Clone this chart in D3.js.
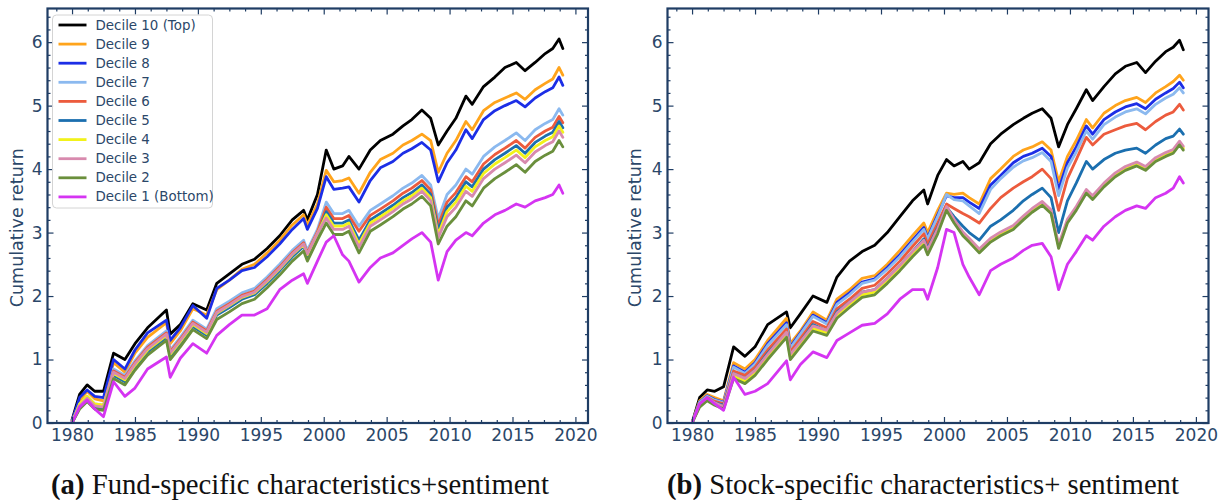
<!DOCTYPE html>
<html>
<head>
<meta charset="utf-8">
<script src="https://cdn.jsdelivr.net/npm/d3@7"></script>
<style>
  html, body { margin: 0; padding: 0; background: #ffffff; }
  svg { display: block; }
</style>
</head>
<body>
<svg id="chart" width="1225" height="500"></svg>
<script>
// ---------------- DATA ----------------
const years = [1980.0,1980.6,1981.2,1981.8,1982.5,1983.3,1984.2,1985.0,1986.0,1987.5,1987.8,1988.6,1989.6,1990.7,1991.5,1992.5,1993.5,1994.5,1995.5,1996.5,1997.5,1998.4,1998.7,1999.5,2000.2,2000.8,2001.5,2002.0,2002.8,2003.7,2004.5,2005.5,2006.3,2007.0,2007.8,2008.5,2009.1,2009.8,2010.5,2011.3,2011.8,2012.7,2013.6,2014.4,2015.3,2016.0,2016.8,2017.6,2018.2,2018.7,2019.0];

const decileNames = ["Decile 10 (Top)","Decile 9","Decile 8","Decile 7","Decile 6","Decile 5","Decile 4","Decile 3","Decile 2","Decile 1 (Bottom)"];

const xTicks = [1980,1985,1990,1995,2000,2005,2010,2015,2020];
const yTicks = [0,1,2,3,4,5,6];

const yLabel = "Cumulative return";
const captionTagA = "(a)";
const captionTextA = " Fund-specific characteristics+sentiment";
const captionTagB = "(b)";
const captionTextB = " Stock-specific characteristics+ sentiment";

// Panel (a): fund-specific characteristics + sentiment
const a10 = [0.05,0.45,0.6,0.5,0.5,1.1,1.0,1.25,1.5,1.78,1.4,1.55,1.88,1.78,2.2,2.35,2.5,2.58,2.75,2.95,3.2,3.35,3.2,3.6,4.3,4.0,4.05,4.2,4.0,4.3,4.45,4.55,4.68,4.78,4.93,4.8,4.38,4.6,4.8,5.15,5.02,5.3,5.45,5.6,5.68,5.55,5.68,5.82,5.9,6.05,5.9];
const a9  = [0.03,0.35,0.5,0.38,0.35,0.95,0.8,1.1,1.35,1.58,1.25,1.45,1.8,1.7,2.1,2.25,2.42,2.5,2.68,2.88,3.12,3.28,3.12,3.45,3.98,3.8,3.82,3.86,3.62,3.95,4.15,4.25,4.38,4.45,4.55,4.45,3.95,4.25,4.45,4.75,4.62,4.92,5.05,5.12,5.2,5.1,5.25,5.35,5.42,5.6,5.48];
const a8  = [0.03,0.4,0.52,0.42,0.4,1.0,0.85,1.15,1.42,1.62,1.3,1.5,1.85,1.65,2.12,2.25,2.4,2.45,2.62,2.82,3.05,3.22,3.05,3.38,3.88,3.68,3.7,3.72,3.48,3.82,4.02,4.12,4.25,4.32,4.42,4.3,3.8,4.1,4.3,4.62,4.48,4.78,4.92,5.0,5.08,4.98,5.12,5.22,5.28,5.45,5.32];
const a7  = [0.02,0.3,0.42,0.3,0.28,0.85,0.75,0.98,1.22,1.45,1.15,1.35,1.62,1.48,1.8,1.92,2.05,2.12,2.3,2.5,2.72,2.88,2.72,3.05,3.48,3.3,3.3,3.35,3.1,3.35,3.45,3.58,3.7,3.78,3.9,3.75,3.22,3.6,3.75,4.0,3.92,4.2,4.35,4.45,4.57,4.45,4.62,4.72,4.78,4.95,4.85];
const a6  = [0.0,0.28,0.4,0.28,0.26,0.82,0.72,0.95,1.19,1.42,1.12,1.32,1.59,1.45,1.76,1.88,2.01,2.08,2.26,2.46,2.68,2.84,2.68,3.01,3.4,3.22,3.22,3.27,3.02,3.27,3.37,3.5,3.62,3.7,3.82,3.67,3.12,3.48,3.63,3.88,3.8,4.08,4.23,4.33,4.45,4.33,4.5,4.6,4.66,4.83,4.73];
const a5  = [0.0,0.25,0.37,0.25,0.23,0.75,0.65,0.88,1.12,1.35,1.05,1.25,1.52,1.38,1.7,1.82,1.95,2.02,2.2,2.4,2.62,2.78,2.62,2.95,3.33,3.15,3.15,3.2,2.88,3.2,3.3,3.43,3.55,3.63,3.75,3.6,3.04,3.4,3.55,3.8,3.72,4.0,4.15,4.25,4.37,4.25,4.42,4.52,4.58,4.75,4.65];
const a4  = [0.0,0.3,0.42,0.3,0.28,0.78,0.68,0.91,1.15,1.38,1.08,1.28,1.55,1.41,1.73,1.85,1.98,2.05,2.23,2.43,2.65,2.81,2.65,2.98,3.28,3.1,3.1,3.15,2.82,3.15,3.25,3.38,3.5,3.58,3.7,3.55,2.97,3.33,3.48,3.73,3.65,3.93,4.08,4.18,4.3,4.18,4.35,4.45,4.51,4.68,4.58];
const a3  = [0.0,0.27,0.39,0.27,0.25,0.8,0.7,0.93,1.17,1.4,1.1,1.3,1.57,1.43,1.74,1.86,1.99,2.06,2.24,2.44,2.66,2.82,2.66,2.99,3.23,3.05,3.05,3.1,2.77,3.1,3.2,3.33,3.45,3.53,3.65,3.5,2.92,3.25,3.4,3.65,3.57,3.85,4.0,4.1,4.22,4.1,4.27,4.37,4.43,4.6,4.5];
const a2  = [0.0,0.22,0.34,0.22,0.2,0.7,0.6,0.83,1.07,1.3,1.0,1.2,1.47,1.33,1.63,1.75,1.88,1.95,2.13,2.33,2.55,2.71,2.55,2.88,3.15,2.97,2.97,3.02,2.68,3.02,3.12,3.25,3.37,3.45,3.57,3.42,2.82,3.1,3.25,3.5,3.42,3.7,3.85,3.95,4.07,3.95,4.12,4.22,4.28,4.45,4.35];
const a1  = [0.0,0.25,0.36,0.22,0.1,0.65,0.42,0.55,0.85,1.04,0.72,1.02,1.25,1.1,1.38,1.55,1.7,1.7,1.8,2.1,2.25,2.35,2.2,2.55,2.85,2.95,2.65,2.55,2.22,2.45,2.6,2.68,2.8,2.9,3.0,2.85,2.25,2.7,2.88,3.0,2.95,3.15,3.28,3.35,3.45,3.4,3.5,3.55,3.6,3.75,3.62];

// Panel (b): stock-specific characteristics + sentiment
const b10 = [0.0,0.4,0.52,0.5,0.57,1.2,1.05,1.2,1.55,1.75,1.5,1.72,2.0,1.9,2.3,2.55,2.7,2.8,3.0,3.25,3.5,3.67,3.45,3.9,4.15,4.05,4.12,4.0,4.1,4.4,4.55,4.7,4.8,4.88,4.95,4.8,4.35,4.7,4.95,5.25,5.08,5.3,5.5,5.62,5.68,5.52,5.7,5.85,5.92,6.03,5.88];
const b9  = [0.0,0.35,0.45,0.4,0.35,0.95,0.85,1.0,1.3,1.65,1.25,1.45,1.75,1.62,1.95,2.1,2.28,2.32,2.5,2.72,2.95,3.15,3.0,3.35,3.62,3.6,3.62,3.55,3.45,3.85,4.0,4.2,4.3,4.35,4.43,4.3,3.8,4.2,4.45,4.78,4.65,4.88,5.0,5.08,5.13,5.05,5.2,5.3,5.38,5.48,5.4];
const b8  = [0.0,0.33,0.43,0.37,0.33,0.9,0.8,0.95,1.25,1.58,1.2,1.42,1.7,1.58,1.9,2.05,2.22,2.27,2.45,2.65,2.88,3.08,2.92,3.28,3.58,3.55,3.55,3.48,3.38,3.75,3.9,4.1,4.2,4.25,4.33,4.2,3.68,4.1,4.35,4.68,4.55,4.78,4.9,4.98,5.03,4.95,5.1,5.2,5.27,5.37,5.28];
const b7  = [0.0,0.32,0.42,0.36,0.32,0.88,0.78,0.93,1.22,1.55,1.18,1.4,1.68,1.56,1.87,2.02,2.2,2.25,2.42,2.62,2.85,3.05,2.9,3.25,3.6,3.52,3.5,3.42,3.3,3.68,3.85,4.03,4.13,4.18,4.26,4.12,3.58,4.02,4.27,4.6,4.47,4.7,4.82,4.9,4.95,4.87,5.02,5.12,5.18,5.28,5.2];
const b6  = [0.0,0.3,0.4,0.34,0.3,0.82,0.75,0.88,1.15,1.48,1.12,1.33,1.6,1.5,1.8,1.95,2.12,2.17,2.35,2.55,2.78,2.98,2.82,3.15,3.45,3.38,3.3,3.25,3.15,3.38,3.55,3.7,3.8,3.88,4.0,3.85,3.35,3.85,4.15,4.5,4.38,4.55,4.62,4.68,4.72,4.62,4.75,4.85,4.9,5.02,4.93];
const b5  = [0.0,0.28,0.38,0.32,0.28,0.78,0.7,0.83,1.1,1.42,1.07,1.28,1.55,1.45,1.75,1.9,2.06,2.1,2.28,2.48,2.7,2.9,2.75,3.08,3.4,3.25,3.1,3.0,2.88,3.1,3.2,3.35,3.5,3.6,3.7,3.55,3.0,3.5,3.78,4.12,4.0,4.15,4.25,4.3,4.33,4.25,4.38,4.48,4.52,4.63,4.55];
const b4  = [0.0,0.27,0.37,0.3,0.24,0.74,0.66,0.79,1.04,1.39,1.04,1.24,1.49,1.42,1.69,1.86,2.02,2.06,2.24,2.44,2.66,2.84,2.69,3.02,3.38,3.18,2.98,2.88,2.71,2.88,2.98,3.08,3.23,3.35,3.46,3.33,2.78,3.18,3.38,3.65,3.55,3.75,3.91,4.01,4.08,4.01,4.15,4.23,4.28,4.41,4.33];
const b3  = [0.0,0.29,0.39,0.32,0.26,0.78,0.7,0.83,1.08,1.43,1.08,1.28,1.53,1.46,1.73,1.9,2.06,2.1,2.28,2.48,2.7,2.88,2.73,3.06,3.41,3.21,3.01,2.91,2.74,2.91,3.01,3.11,3.26,3.38,3.49,3.36,2.81,3.21,3.41,3.68,3.58,3.78,3.94,4.04,4.11,4.04,4.18,4.26,4.31,4.44,4.36];
const b2  = [0.0,0.25,0.35,0.28,0.22,0.7,0.62,0.75,1.0,1.35,1.0,1.2,1.45,1.38,1.65,1.82,1.98,2.02,2.2,2.4,2.62,2.8,2.65,2.98,3.35,3.15,2.95,2.85,2.68,2.85,2.95,3.05,3.2,3.32,3.43,3.3,2.75,3.15,3.35,3.62,3.52,3.72,3.88,3.98,4.05,3.98,4.12,4.2,4.25,4.38,4.3];
const b1  = [0.0,0.3,0.4,0.3,0.2,0.72,0.45,0.5,0.62,0.98,0.68,0.92,1.12,1.03,1.3,1.42,1.54,1.57,1.72,1.95,2.1,2.1,1.95,2.45,3.05,3.0,2.5,2.3,2.02,2.4,2.5,2.6,2.72,2.8,2.83,2.62,2.1,2.5,2.7,2.95,2.88,3.1,3.25,3.35,3.42,3.38,3.55,3.62,3.7,3.88,3.78];

// ---------------- STYLE ----------------
const decileColors = ["#000000","#ffa41c","#1c2ee6","#8bb9ef","#ec5b3d","#1b6faf","#f2f21a","#d88aae","#6a8f3c","#d534f2"];
const axisColor = "#1f3d64";
const textColor = "#2b4769";

const panels = [
  { series: [a10,a9,a8,a7,a6,a5,a4,a3,a2,a1], x0: 47.5, x1: 588, legend: true,
    labelX: 17, tag: captionTagA, text: captionTextA, capX: 51, capW: 498 },
  { series: [b10,b9,b8,b7,b6,b5,b4,b3,b2,b1], x0: 667.5, x1: 1208.5, legend: false,
    labelX: 635, tag: captionTagB, text: captionTextB, capX: 667, capW: 512 }
];

const svg = d3.select("#chart");
const yTop = 8.5, yBot = 423;

panels.forEach((p, pi) => {
  const x = d3.scaleLinear().domain([1978.05, 2021.0]).range([p.x0, p.x1]);
  const y = d3.scaleLinear().domain([0, 6.53]).range([yBot, yTop]);
  const g = svg.append("g");

  const clipId = "clip" + pi;
  svg.append("clipPath").attr("id", clipId).append("rect")
    .attr("x", p.x0).attr("y", yTop).attr("width", p.x1 - p.x0).attr("height", yBot - yTop);

  // lines
  const line = d3.line().x((d, i) => x(years[i])).y(d => y(d));
  const lg = g.append("g").attr("clip-path", `url(#${clipId})`);
  p.series.forEach((s, k) => {
    lg.append("path").datum(s)
      .attr("d", line)
      .attr("fill", "none")
      .attr("stroke", decileColors[k])
      .attr("stroke-width", 2.8)
      .attr("stroke-linejoin", "round")
      .attr("stroke-linecap", "round");
  });

  // axes (inward ticks on all sides)
  const xMinor = d3.range(1978.75, 2021.0, 1.25).filter(v => !xTicks.some(t => Math.abs(t - v) < 1e-6));
  const yMinor = d3.range(0, 6.53, 0.2).filter(v => !yTicks.some(t => Math.abs(t - v) < 1e-6));

  function styleAxis(sel) {
    sel.select(".domain").remove();
    sel.selectAll(".tick line").attr("stroke", axisColor).attr("stroke-width", 1.2);
    sel.selectAll(".tick text").attr("fill", textColor)
      .style("font-family", "DejaVu Sans, sans-serif").style("font-size", "17px");
  }

  g.append("g").attr("transform", `translate(0,${yBot})`)
    .call(d3.axisBottom(x).tickValues(xTicks).tickSize(-6).tickPadding(6).tickFormat(d3.format("d")))
    .call(styleAxis);
  g.append("g").attr("transform", `translate(0,${yBot})`)
    .call(d3.axisBottom(x).tickValues(xMinor).tickSize(-3).tickFormat(""))
    .call(styleAxis);
  g.append("g").attr("transform", `translate(0,${yTop})`)
    .call(d3.axisTop(x).tickValues(xTicks).tickSize(-6).tickFormat(""))
    .call(styleAxis);
  g.append("g").attr("transform", `translate(0,${yTop})`)
    .call(d3.axisTop(x).tickValues(xMinor).tickSize(-3).tickFormat(""))
    .call(styleAxis);

  g.append("g").attr("transform", `translate(${p.x0},0)`)
    .call(d3.axisLeft(y).tickValues(yTicks).tickSize(-6).tickPadding(5).tickFormat(d3.format("d")))
    .call(styleAxis);
  g.append("g").attr("transform", `translate(${p.x0},0)`)
    .call(d3.axisLeft(y).tickValues(yMinor).tickSize(-3).tickFormat(""))
    .call(styleAxis);
  g.append("g").attr("transform", `translate(${p.x1},0)`)
    .call(d3.axisRight(y).tickValues(yTicks).tickSize(-6).tickFormat(""))
    .call(styleAxis);
  g.append("g").attr("transform", `translate(${p.x1},0)`)
    .call(d3.axisRight(y).tickValues(yMinor).tickSize(-3).tickFormat(""))
    .call(styleAxis);

  // frame
  g.append("rect")
    .attr("x", p.x0).attr("y", yTop)
    .attr("width", p.x1 - p.x0).attr("height", yBot - yTop)
    .attr("fill", "none").attr("stroke", axisColor).attr("stroke-width", 2.2);

  // y label
  g.append("text")
    .attr("transform", `translate(${p.labelX},${(yTop + yBot) / 2 + 12}) rotate(-90)`)
    .attr("text-anchor", "middle")
    .attr("dominant-baseline", "central")
    .attr("fill", textColor)
    .style("font-family", "DejaVu Sans, sans-serif")
    .style("font-size", "17.5px")
    .text(yLabel);

  // legend
  if (p.legend) {
    const lgX = 52.5, lgY = 15, lgW = 160, lgH = 193, rowH = 19.1;
    const leg = g.append("g");
    leg.append("rect")
      .attr("x", lgX).attr("y", lgY).attr("width", lgW).attr("height", lgH)
      .attr("rx", 4).attr("fill", "#ffffff").attr("fill-opacity", 0.9)
      .attr("stroke", "#d4d4d4").attr("stroke-width", 1);
    decileNames.forEach((name, k) => {
      const cy = lgY + 10 + k * rowH;
      leg.append("line")
        .attr("x1", lgX + 6).attr("x2", lgX + 34).attr("y1", cy).attr("y2", cy)
        .attr("stroke", decileColors[k]).attr("stroke-width", 2.8);
      leg.append("text")
        .attr("x", lgX + 43).attr("y", cy)
        .attr("dominant-baseline", "central")
        .attr("fill", textColor)
        .style("font-family", "DejaVu Sans, sans-serif")
        .style("font-size", "13.4px")
        .text(name);
    });
  }

  // caption
  const cap = svg.append("text")
    .attr("x", p.capX).attr("y", 494)
    .attr("fill", "#111111")
    .style("font-family", "Liberation Serif, serif")
    .style("font-size", "24px");
  cap.append("tspan").style("font-weight", "bold").text(p.tag);
  cap.append("tspan").text(p.text);
  const w = cap.node().getComputedTextLength();
  const fs = 24 * p.capW / w;
  cap.style("font-size", fs.toFixed(2) + "px");
});
</script>
</body>
</html>
